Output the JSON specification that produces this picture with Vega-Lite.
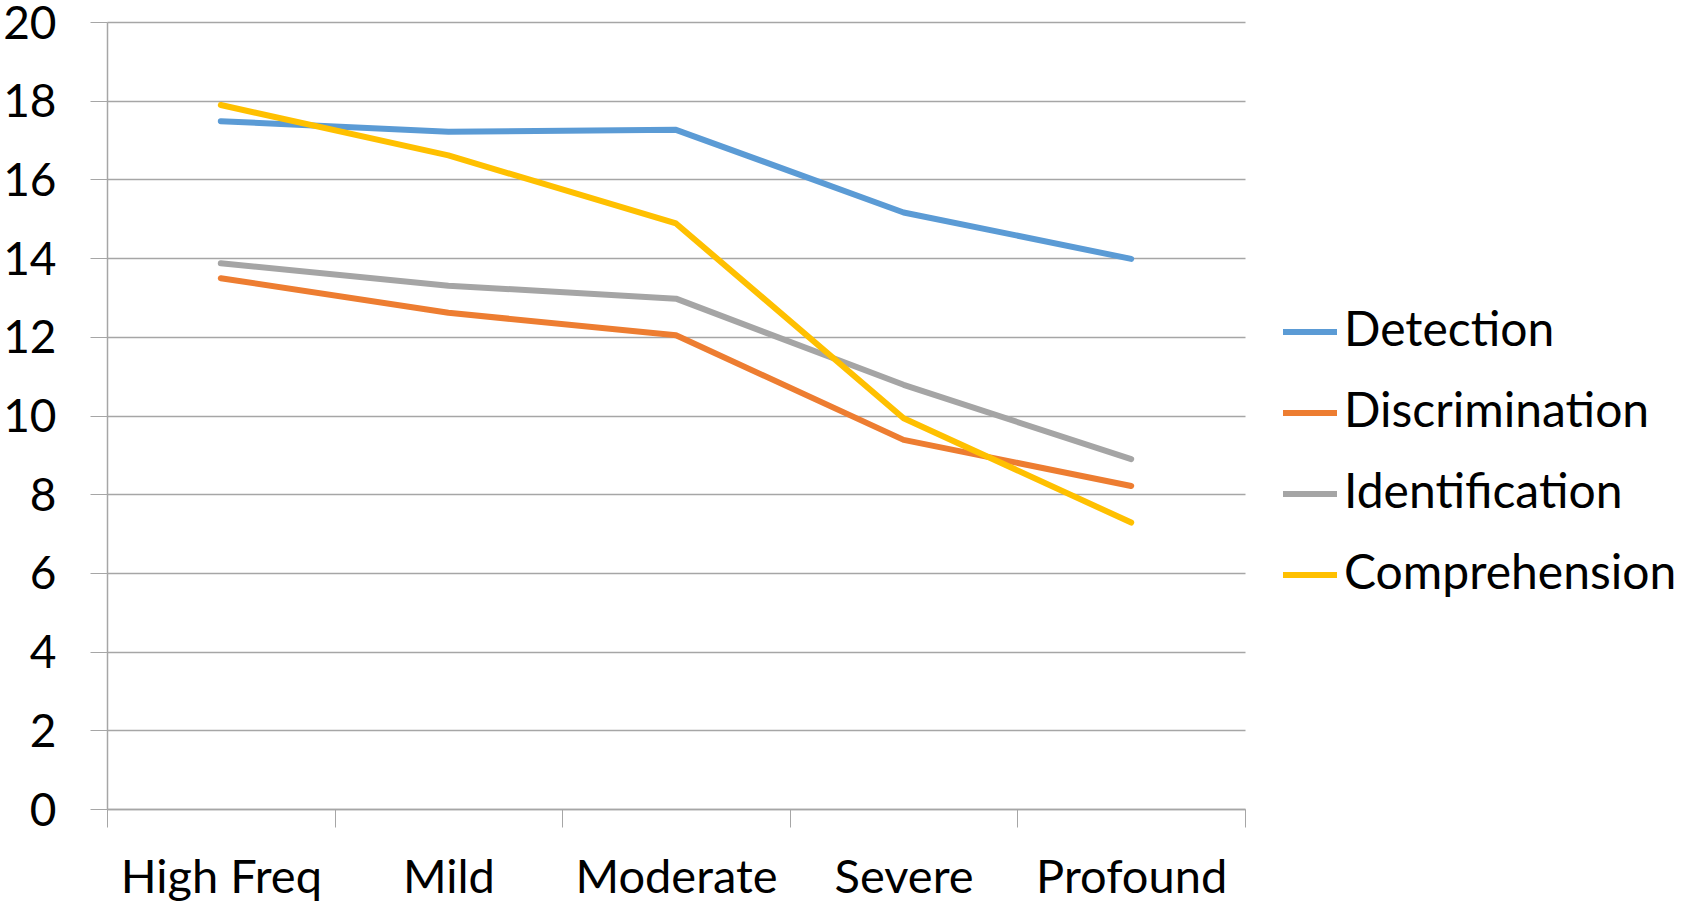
{
  "$schema": "https://vega.github.io/schema/vega-lite/v6.json",
  "autosize": "none",
  "width": 1138,
  "height": 787,
  "padding": {"left": 107, "top": 22, "right": 444, "bottom": 95},
  "background": "white",
  "config": {
    "view": {"stroke": null},
    "font": "Lato"
  },
  "data": {
    "values": [
      {"level": "High Freq", "measure": "Detection", "score": 17.48},
      {"level": "Mild", "measure": "Detection", "score": 17.21},
      {"level": "Moderate", "measure": "Detection", "score": 17.26},
      {"level": "Severe", "measure": "Detection", "score": 15.16},
      {"level": "Profound", "measure": "Detection", "score": 13.98},
      {"level": "High Freq", "measure": "Discrimination", "score": 13.49},
      {"level": "Mild", "measure": "Discrimination", "score": 12.61},
      {"level": "Moderate", "measure": "Discrimination", "score": 12.04},
      {"level": "Severe", "measure": "Discrimination", "score": 9.38},
      {"level": "Profound", "measure": "Discrimination", "score": 8.21},
      {"level": "High Freq", "measure": "Identification", "score": 13.87},
      {"level": "Mild", "measure": "Identification", "score": 13.3},
      {"level": "Moderate", "measure": "Identification", "score": 12.97},
      {"level": "Severe", "measure": "Identification", "score": 10.78},
      {"level": "Profound", "measure": "Identification", "score": 8.89},
      {"level": "High Freq", "measure": "Comprehension", "score": 17.89},
      {"level": "Mild", "measure": "Comprehension", "score": 16.61},
      {"level": "Moderate", "measure": "Comprehension", "score": 14.88},
      {"level": "Severe", "measure": "Comprehension", "score": 9.93},
      {"level": "Profound", "measure": "Comprehension", "score": 7.28}
    ]
  },
  "mark": {"type": "line", "strokeWidth": 6, "strokeJoin": "round", "strokeCap": "round"},
  "encoding": {
    "x": {
      "field": "level",
      "type": "ordinal",
      "sort": ["High Freq", "Mild", "Moderate", "Severe", "Profound"],
      "scale": {"type": "band", "paddingInner": 0, "paddingOuter": 0},
      "axis": {
        "title": null,
        "labelAngle": 0,
        "labelFontSize": 47,
        "labelColor": "black",
        "labelPadding": 28,
        "labelLimit": 0,
        "tickBand": "extent",
        "tickSize": 18,
        "tickColor": "#a6a6a6",
        "domainColor": "#a6a6a6",
        "domainWidth": 1.5,
        "grid": false
      }
    },
    "y": {
      "field": "score",
      "type": "quantitative",
      "scale": {"domain": [0, 20]},
      "axis": {
        "title": null,
        "values": [0, 2, 4, 6, 8, 10, 12, 14, 16, 18, 20],
        "labelFontSize": 46,
        "labelColor": "black",
        "labelPadding": 34,
        "labelOffset": 2,
        "tickSize": 17,
        "tickColor": "#a6a6a6",
        "domainColor": "#a6a6a6",
        "domainWidth": 1.5,
        "gridColor": "#a6a6a6",
        "gridWidth": 1.5
      }
    },
    "color": {
      "field": "measure",
      "type": "nominal",
      "sort": ["Detection", "Discrimination", "Identification", "Comprehension"],
      "scale": {
        "domain": ["Detection", "Discrimination", "Identification", "Comprehension"],
        "range": ["#5b9bd5", "#ed7d31", "#a5a5a5", "#ffc000"]
      },
      "legend": {
        "title": null,
        "orient": "none",
        "legendX": 1173,
        "legendY": 280,
        "symbolType": "stroke",
        "symbolSize": 2916,
        "symbolStrokeWidth": 6,
        "labelFontSize": 48,
        "labelColor": "black",
        "labelOffset": 4,
        "labelLimit": 0,
        "rowPadding": 27
      }
    }
  }
}
